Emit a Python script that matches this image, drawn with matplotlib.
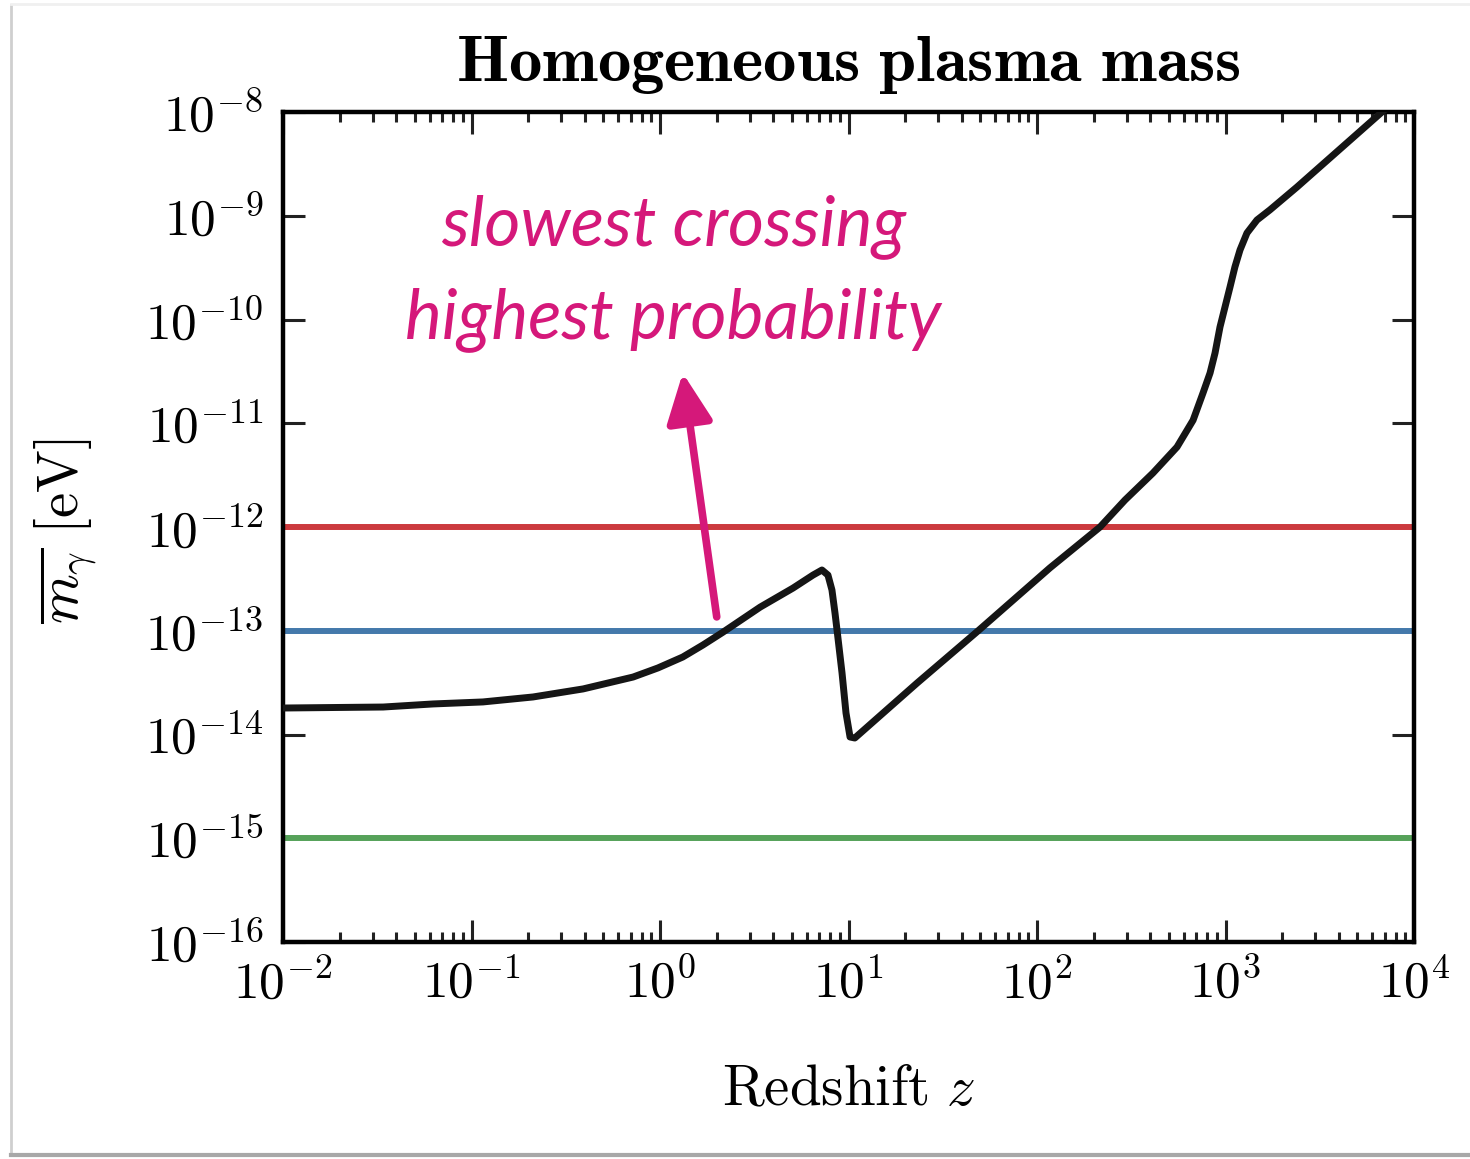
import numpy as np
import matplotlib
matplotlib.use('Agg')
import matplotlib.pyplot as plt
from matplotlib.lines import Line2D
from matplotlib.patches import ArrowStyle
from matplotlib.ticker import NullLocator, LogLocator

plt.rcParams['mathtext.fontset'] = 'cm'

# curve
z = [0.01, 0.034, 0.0625, 0.115, 0.212, 0.391, 0.72, 0.975, 1.32, 1.69, 2.16,
     3.40, 5.08, 6.48, 7.23, 7.78, 8.17, 8.48, 8.69, 9.24, 9.70, 10.19, 10.8,
     23.1, 48.6, 117, 216, 293, 412, 553, 673, 760, 828, 880,
     935, 994, 1057, 1122, 1194, 1300, 1469, 1722, 2394, 6760, 10000]
m = [1.80e-14, 1.84e-14, 1.97e-14, 2.06e-14, 2.30e-14, 2.75e-14, 3.58e-14,
     4.38e-14, 5.58e-14, 7.29e-14, 9.7e-14, 1.69e-13, 2.58e-13, 3.44e-13,
     3.85e-13, 3.44e-13, 2.47e-13, 1.48e-13, 1.02e-13, 3.92e-14, 1.61e-14,
     9.46e-15, 9.25e-15, 3.13e-14, 9.95e-14, 4.03e-13,
     1.0e-12, 1.82e-12, 3.31e-12, 5.9e-12, 1.07e-11, 1.96e-11, 3.05e-11,
     4.75e-11, 8.47e-11, 1.32e-10, 2.06e-10, 3.21e-10, 4.68e-10, 6.82e-10,
     9.1e-10, 1.14e-9, 1.89e-9, 1.0e-8, 1.8e-8]

# horizontal reference levels
levels = [1e-12, 1e-13, 1e-15]
level_colors = ['#cc3a3e', '#4479ab', '#56a25a']

xticks = [1e-2, 1e-1, 1e0, 1e1, 1e2, 1e3, 1e4]
xlabels = [r'$10^{-2}$', r'$10^{-1}$', r'$10^{0}$', r'$10^{1}$',
           r'$10^{2}$', r'$10^{3}$', r'$10^{4}$']
yticks = [1e-16, 1e-15, 1e-14, 1e-13, 1e-12, 1e-11, 1e-10, 1e-9, 1e-8]
ylabels = [r'$10^{-16}$', r'$10^{-15}$', r'$10^{-14}$', r'$10^{-13}$',
           r'$10^{-12}$', r'$10^{-11}$', r'$10^{-10}$', r'$10^{-9}$',
           r'$10^{-8}$']

# arrow: tail / tip
arrow_tail = (2.0, 1.36e-13)
arrow_tip = (1.32, 3.05e-11)
pink = '#d5187a'

fig = plt.figure(figsize=(14.7, 11.59), dpi=100)
ax = fig.add_axes([283 / 1470, 1 - 942 / 1159, 1131 / 1470, 830 / 1159])

for lev, col in zip(levels, level_colors):
    ax.axhline(lev, color=col, lw=4.3, zorder=2)

ax.plot(z, m, color='#151515', lw=5, zorder=3, solid_joinstyle='round')

ax.set_xscale('log')
ax.set_yscale('log')
ax.set_xlim(1e-2, 1e4)
ax.set_ylim(1e-16, 1e-8)

ax.set_xticks(xticks)
ax.set_xticklabels(xlabels)
ax.xaxis.set_minor_locator(LogLocator(base=10, subs=np.arange(2, 10), numticks=20))
ax.set_yticks(yticks)
ax.set_yticklabels(ylabels)
ax.yaxis.set_minor_locator(NullLocator())

ax.tick_params(which='both', direction='in', top=True, right=True, width=2.2,
               color='#222222')
ax.tick_params(which='major', length=16, labelsize=37)
ax.tick_params(which='minor', length=7)
ax.tick_params(axis='x', pad=12)
ax.tick_params(axis='y', pad=14)
for sp in ax.spines.values():
    sp.set_linewidth(3.2)

ax.set_title(r'$\mathbf{Homogeneous\ plasma\ mass}$', fontsize=48, pad=22)
ax.set_xlabel(r'$\mathrm{Redshift}\ z$', fontsize=41)
ax.xaxis.set_label_coords(0.5, -0.145)
ax.set_ylabel(r'$\overline{m_\gamma}\ [\mathrm{eV}]$', fontsize=41)
ax.yaxis.set_label_coords(-0.162, 0.495)

ax.text(0.345, 0.840, 'slowest crossing', transform=ax.transAxes,
        ha='center', va='baseline', color=pink, fontsize=50,
        family='Lato', style='italic')
ax.text(0.345, 0.728, 'highest probability', transform=ax.transAxes,
        ha='center', va='baseline', color=pink, fontsize=50,
        family='Lato', style='italic')

ax.annotate('', xy=arrow_tip, xytext=arrow_tail,
            arrowprops=dict(arrowstyle=ArrowStyle('-|>', head_length=3.0,
                                                  head_width=1.4),
                            color=pink, lw=5.5, shrinkA=0, shrinkB=0,
                            mutation_scale=10, capstyle='round'),
            zorder=4)

# screenshot frame
fig.add_artist(Line2D([11 / 1470, 11 / 1470], [5 / 1159, 1 - 5 / 1159],
                      transform=fig.transFigure, color='#cfcfcf', lw=2))
fig.add_artist(Line2D([11 / 1470, 1.0], [4 / 1159, 4 / 1159],
                      transform=fig.transFigure, color='#a8a8a8', lw=3))
fig.add_artist(Line2D([11 / 1470, 1.0], [1 - 4 / 1159, 1 - 4 / 1159],
                      transform=fig.transFigure, color='#f0f0f0', lw=2))

fig.savefig('out.png', dpi=100, facecolor='white')
